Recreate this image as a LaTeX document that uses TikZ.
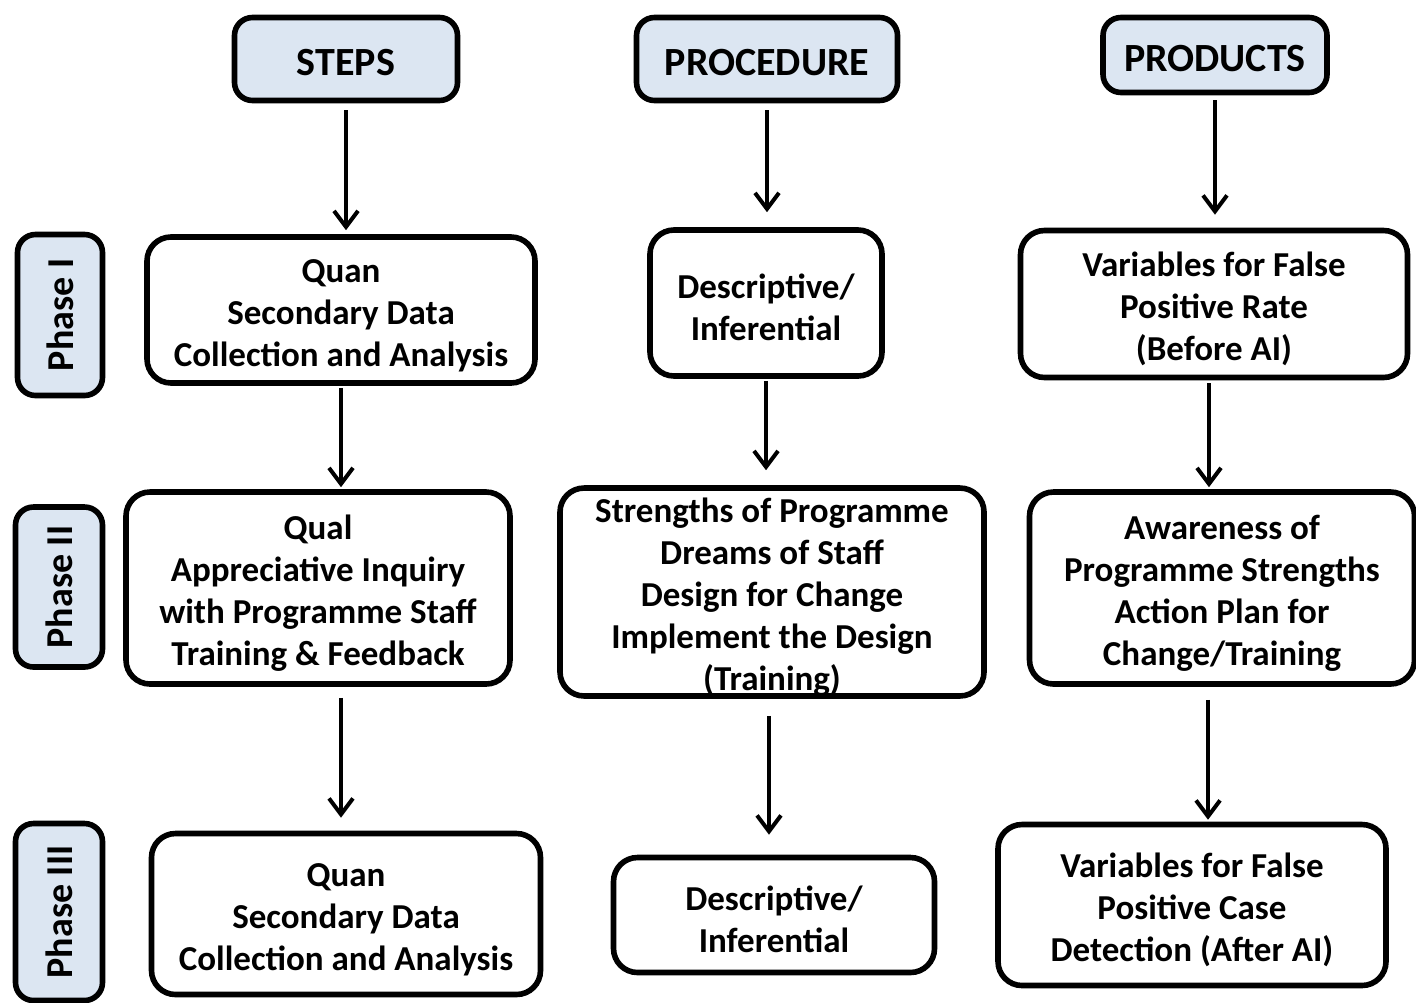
\documentclass[tikz,border=0pt]{standalone}
\usepackage{fontspec}
\setmainfont{Carlito}
\usetikzlibrary{arrows.meta}
\definecolor{headfill}{RGB}{220,230,242}
\newcommand{\toprule}{\rule{0pt}{17pt}}
\tikzset{
  box/.style={draw, line width=2.8pt, rounded corners=12pt, fill=white,
    align=center, inner sep=0pt, font=\bfseries\fontsize{17.5}{21}\selectfont},
  headbox/.style={box, fill=headfill, rounded corners=9pt,
    font=\bfseries\fontsize{20}{24}\selectfont,
    execute at begin node={\rule{0pt}{17pt}}},
  phasebox/.style={box, fill=headfill, rounded corners=9pt, rotate=90,
    font=\bfseries\fontsize{19}{23}\selectfont},
  arr/.style={-{Straight Barb[length=8pt,width=12pt,line width=2pt]}, line width=2pt}
}
\begin{document}
\begin{tikzpicture}[x=0.5pt, y=-0.5pt]
  \useasboundingbox (0,0) rectangle (1416,1002);
  \clip (0,0) rectangle (1416,1002);
  % headings
  \node (steps) [headbox, minimum width=111.5pt, minimum height=41.5pt] at (346,59) {STEPS};
  \node (proc) [headbox, minimum width=130.5pt, minimum height=41.5pt] at (767,59) {PROCEDURE};
  \node (prod) [headbox, minimum width=112pt, minimum height=37.5pt] at (1215,55) {PRODUCTS};
  % phases
  \node (ph1) [phasebox, minimum width=80.5pt, minimum height=42.5pt] at (60,315) {Phase I};
  \node (ph2) [phasebox, minimum width=80pt, minimum height=43.5pt] at (59,587) {Phase II};
  \node (ph3) [phasebox, minimum width=88.5pt, minimum height=43.5pt] at (59,912) {Phase III};
  % phase I
  \node (quan1) [box, minimum width=194pt, minimum height=73pt] at (341,310)
    {\toprule Quan\\Secondary Data\\Collection and Analysis};
  \node (desc1) [box, minimum width=116pt, minimum height=73pt] at (766,303)
    {\toprule Descriptive/\\Inferential};
  \node (var1) [box, minimum width=193.5pt, minimum height=73.5pt] at (1214,304)
    {\toprule Variables for False\\Positive Rate\\(Before AI)};
  % phase II
  \node (qual) [box, minimum width=192pt, minimum height=96pt] at (318,588)
    {\toprule Qual\\Appreciative Inquiry\\with Programme Staff\\Training \& Feedback};
  \node (strengths) [box, minimum width=212pt, minimum height=103pt] at (772,592)
    {\toprule Strengths of Programme\\Dreams of Staff\\Design for Change\\Implement the Design\\(Training)};
  \node (aware) [box, minimum width=192.5pt, minimum height=96pt] at (1222,588)
    {\toprule Awareness of\\Programme Strengths\\Action Plan for\\Change/Training};
  % phase III
  \node (quan3) [box, minimum width=194.5pt, minimum height=80.5pt] at (346,914)
    {\toprule Quan\\Secondary Data\\Collection and Analysis};
  \node (desc3) [box, minimum width=160.5pt, minimum height=57.5pt] at (774,915)
    {\toprule Descriptive/\\Inferential};
  \node (var3) [box, minimum width=194pt, minimum height=80.5pt] at (1192,905)
    {\toprule Variables for False\\Positive Case\\Detection (After AI)};
  % arrows
  \path[arr] (steps.south) edge[shorten <=3.5pt, shorten >=2pt] (steps.south |- quan1.north)
             (proc.south) edge[shorten <=3.5pt, shorten >=7.5pt] (proc.south |- desc1.north)
             (prod.south) edge[shorten <=2.5pt, shorten >=6.5pt] (prod.south |- var1.north)
             (quan1.south) edge[shorten <=1pt, shorten >=1pt] (quan1.south |- qual.north)
             (desc1.south) edge[shorten <=1pt, shorten >=7.5pt] (desc1.south |- strengths.north)
             ([xshift=-2.5pt]var1.south) edge[shorten <=1.5pt, shorten >=1pt] ([xshift=-2.5pt]var1.south |- aware.north)
             ([xshift=-2.5pt]quan3.north |- qual.south) edge[shorten <=5.5pt, shorten >=6.5pt] ([xshift=-2.5pt]quan3.north)
             ([xshift=-1.5pt]strengths.south) edge[shorten <=8.5pt, shorten >=10pt] ([xshift=-1.5pt]strengths.south |- desc3.north)
             ([xshift=-7pt]aware.south) edge[shorten <=6.5pt, shorten >=1pt] ([xshift=-7pt]aware.south |- var3.north)
             ;
\end{tikzpicture}
\end{document}
